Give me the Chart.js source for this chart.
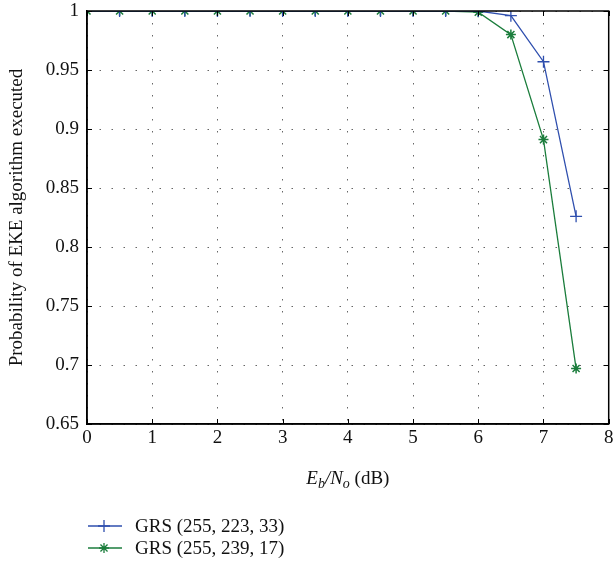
<!DOCTYPE html>
<html>
<head>
<meta charset="utf-8">
<script src="https://cdn.jsdelivr.net/npm/chart.js@4"></script>
<style>
  html, body { margin: 0; padding: 0; background: #fff; }
  #wrap { width: 616px; height: 565px; }
</style>
</head>
<body>
<div id="wrap"><canvas id="chart" width="616" height="565"></canvas></div>
<script>
// Eb/No values (dB)
const ebNo = [0, 0.5, 1, 1.5, 2, 2.5, 3, 3.5, 4, 4.5, 5, 5.5, 6, 6.5, 7, 7.5];
// probability that the EKE algorithm is executed
const grs223 = [1, 1, 1, 1, 1, 1, 1, 1, 1, 1, 1, 1, 1, 0.996, 0.957, 0.826];
const grs239 = [1, 1, 1, 1, 1, 1, 1, 1, 1, 1, 1, 1, 0.999, 0.980, 0.891, 0.697];
const seriesNames = ["GRS (255, 223, 33)", "GRS (255, 239, 17)"];
const xTicks = [0, 1, 2, 3, 4, 5, 6, 7, 8];
const yTicks = [0.65, 0.7, 0.75, 0.8, 0.85, 0.9, 0.95, 1];

const BLUE = "#2f4fae";
const GREEN = "#1b7d3c";
const FONT = "'Liberation Serif', 'DejaVu Serif', serif";
const FS = 19;

const toPoints = (ys) => ys.map((y, i) => ({ x: ebNo[i], y }));

// titles, box, inward ticks and the legend under the chart
const decorations = {
  id: "decorations",
  afterDraw(chart) {
    const ctx = chart.ctx;
    const a = chart.chartArea;
    const xs = chart.scales.x;
    const ys = chart.scales.y;
    ctx.save();

    // inward tick marks
    ctx.strokeStyle = "#000";
    ctx.lineWidth = 1;
    ctx.beginPath();
    xTicks.forEach((t) => {
      const px = Math.round(xs.getPixelForValue(t)) + 0.5;
      ctx.moveTo(px, a.bottom); ctx.lineTo(px, a.bottom - 5);
      ctx.moveTo(px, a.top); ctx.lineTo(px, a.top + 5);
    });
    yTicks.forEach((t) => {
      const py = Math.round(ys.getPixelForValue(t)) + 0.5;
      ctx.moveTo(a.left, py); ctx.lineTo(a.left + 5, py);
      ctx.moveTo(a.right, py); ctx.lineTo(a.right - 5, py);
    });
    ctx.stroke();

    // box
    ctx.lineWidth = 1.5;
    ctx.strokeRect(a.left, a.top, a.right - a.left, a.bottom - a.top);

    // y title
    ctx.fillStyle = "#111";
    ctx.font = FS + "px " + FONT;
    ctx.textAlign = "center";
    ctx.textBaseline = "middle";
    ctx.save();
    ctx.translate(17, (a.top + a.bottom) / 2);
    ctx.rotate(-Math.PI / 2);
    ctx.fillText("Probability of EKE algorithm executed", 0, 0);
    ctx.restore();

    // x title: E_b/N_o (dB)
    const parts = [
      { t: "E", f: "italic " + FS + "px " + FONT, dy: 0 },
      { t: "b", f: "italic 14px " + FONT, dy: 4 },
      { t: "/N", f: "italic " + FS + "px " + FONT, dy: 0 },
      { t: "o", f: "italic 14px " + FONT, dy: 4 },
      { t: " (dB)", f: FS + "px " + FONT, dy: 0 },
    ];
    let total = 0;
    parts.forEach((p) => { ctx.font = p.f; p.w = ctx.measureText(p.t).width; total += p.w; });
    let cx = (a.left + a.right) / 2 - total / 2;
    ctx.textAlign = "left";
    ctx.textBaseline = "alphabetic";
    parts.forEach((p) => {
      ctx.font = p.f;
      ctx.fillText(p.t, cx, 484 + p.dy);
      cx += p.w;
    });

    // legend
    const rows = [
      { y: 526, color: BLUE, ds: chart.data.datasets[0] },
      { y: 548, color: GREEN, ds: chart.data.datasets[1] },
    ];
    rows.forEach((r) => {
      ctx.strokeStyle = r.color;
      ctx.lineWidth = 1.3;
      ctx.beginPath();
      ctx.moveTo(88, r.y); ctx.lineTo(122, r.y);
      ctx.stroke();
      Chart.helpers.drawPoint(ctx, {
        pointStyle: r.ds.pointStyle,
        radius: r.ds.pointRadius,
        borderWidth: r.ds.pointBorderWidth,
      }, 104, r.y);
      ctx.fillStyle = "#111";
      ctx.font = FS + "px " + FONT;
      ctx.textBaseline = "middle";
      ctx.fillText(r.ds.label, 135, r.y + 1);
    });
    ctx.restore();
  },
};

new Chart(document.getElementById("chart"), {
  type: "line",
  data: {
    datasets: [
      {
        label: seriesNames[0],
        data: toPoints(grs223),
        borderColor: BLUE,
        backgroundColor: BLUE,
        borderWidth: 1.3,
        pointStyle: "cross",
        pointRadius: 6,
        pointBorderWidth: 1.3,
        tension: 0,
      },
      {
        label: seriesNames[1],
        data: toPoints(grs239),
        borderColor: GREEN,
        backgroundColor: GREEN,
        borderWidth: 1.3,
        pointStyle: "star",
        pointRadius: 5,
        pointBorderWidth: 1.5,
        tension: 0,
      },
    ],
  },
  options: {
    responsive: false,
    animation: false,
    layout: { padding: { left: 0, right: 4, top: 11, bottom: 0 } },
    plugins: { legend: { display: false }, tooltip: { enabled: false } },
    scales: {
      x: {
        type: "linear",
        min: 0,
        max: 8,
        afterFit: (s) => { s.height = 141; s.paddingLeft = 0; s.paddingRight = 0; },
        afterBuildTicks: (s) => { s.ticks = xTicks.map((v) => ({ value: v })); },
        ticks: {
          color: "#111",
          font: { family: FONT, size: FS },
          padding: 3,
          maxRotation: 0,
        },
        grid: {
          color: "#666",
          lineWidth: 1,
          drawTicks: false,
        },
        border: { display: true, color: "#000", width: 1.5, dash: [1.5, 10.5] },
      },
      y: {
        type: "linear",
        min: 0.65,
        max: 1,
        afterFit: (s) => { s.width = 87; s.paddingTop = 0; s.paddingBottom = 0; },
        afterBuildTicks: (s) => { s.ticks = yTicks.map((v) => ({ value: v })); },
        ticks: {
          color: "#111",
          font: { family: FONT, size: FS },
          padding: 8,
          callback: (v) => String(Math.round(v * 100) / 100),
        },
        grid: {
          color: "#666",
          lineWidth: 1,
          drawTicks: false,
        },
        border: { display: true, color: "#000", width: 1.5, dash: [1.5, 10.5] },
      },
    },
  },
  plugins: [decorations],
});
</script>
</body>
</html>
